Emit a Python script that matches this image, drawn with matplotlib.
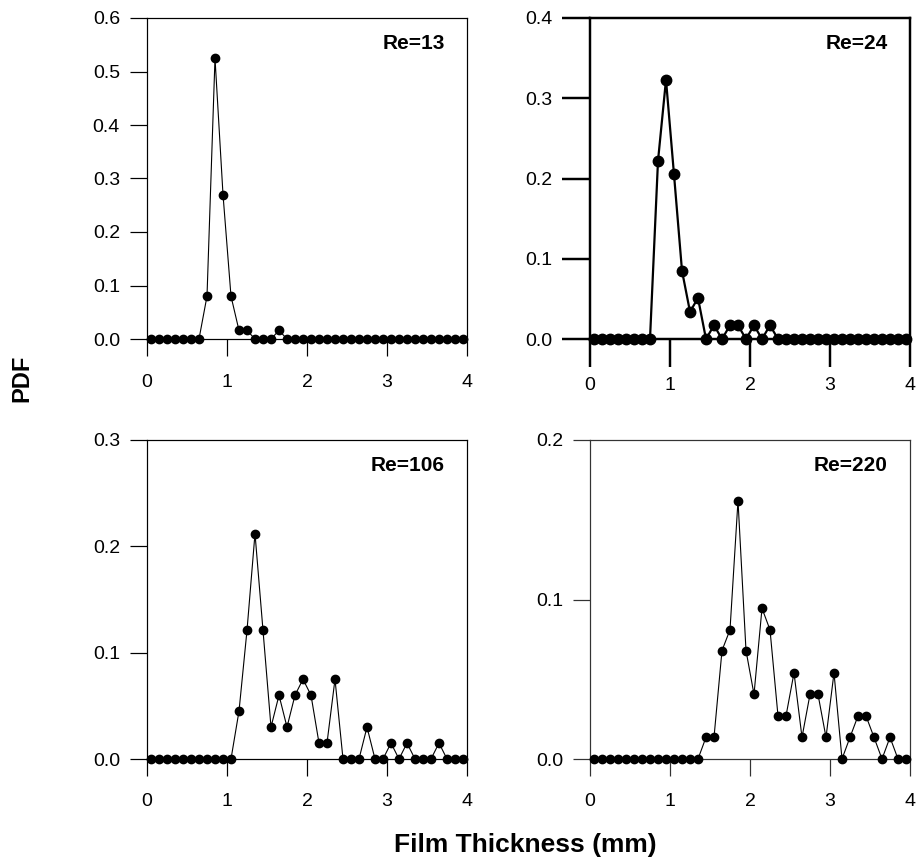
import matplotlib
matplotlib.use("Agg")
import matplotlib.pyplot as plt
import numpy as np

plt.rcParams['font.family'] = ['Liberation Sans', 'DejaVu Sans']

# bin centres, 0.1 mm bins from 0 to 4 mm
x = np.arange(40) * 0.1 + 0.05

pdf_re13 = [0, 0, 0, 0, 0, 0, 0, 0.08, 0.525, 0.27,
            0.08, 0.016, 0.016, 0, 0, 0, 0.016, 0, 0, 0,
            0, 0, 0, 0, 0, 0, 0, 0, 0, 0,
            0, 0, 0, 0, 0, 0, 0, 0, 0, 0]
pdf_re24 = [0, 0, 0, 0, 0, 0, 0, 0, 0.222, 0.323,
            0.205, 0.085, 0.034, 0.051, 0, 0.017, 0, 0.017, 0.017, 0,
            0.017, 0, 0.017, 0, 0, 0, 0, 0, 0, 0,
            0, 0, 0, 0, 0, 0, 0, 0, 0, 0]
pdf_re106 = [0, 0, 0, 0, 0, 0, 0, 0, 0, 0,
             0, 0.045, 0.121, 0.212, 0.121, 0.030, 0.060, 0.030, 0.060, 0.075,
             0.060, 0.015, 0.015, 0.075, 0, 0, 0, 0.030, 0, 0,
             0.015, 0, 0.015, 0, 0, 0, 0.015, 0, 0, 0]
pdf_re220 = [0, 0, 0, 0, 0, 0, 0, 0, 0, 0,
             0, 0, 0, 0, 0.0136, 0.0136, 0.068, 0.081, 0.162, 0.068,
             0.0405, 0.0945, 0.081, 0.027, 0.027, 0.054, 0.0136, 0.0405, 0.0405, 0.0136,
             0.054, 0, 0.0136, 0.027, 0.027, 0.0136, 0, 0.0136, 0, 0]

labels = ['Re=13', 'Re=24', 'Re=106', 'Re=220']
ymax = [0.6, 0.4, 0.3, 0.2]
ysteps = [0.1, 0.1, 0.1, 0.1]

fig = plt.figure(figsize=(9.19, 8.65), dpi=100)
W, H = 919, 865

# axes boxes in pixels: left, top, right, bottom
boxes = [(147, 18, 467, 339), (590, 18, 910, 339),
         (147, 440, 467, 759), (590, 440, 910, 759)]
series = [pdf_re13, pdf_re24, pdf_re106, pdf_re220]
lws = [0.8, 1.6, 0.8, 0.8]
mss = [6, 7.5, 6, 6]
ticklen = [12.5, 20, 12.5, 12.5]
colors = ['black', 'black', 'black', '#333333']
xpad = [13, 7, 12, 12]

for i in range(4):
    l, t, r, b = boxes[i]
    ax = fig.add_axes([l / W, 1 - b / H, (r - l) / W, (b - t) / H])
    ax.plot(x, series[i], '-o', color='black', lw=lws[i], ms=mss[i],
            clip_on=False, zorder=3)
    ax.set_xlim(0, 4)
    ax.set_ylim(0, ymax[i])
    ax.set_xticks([0, 1, 2, 3, 4])
    ax.set_yticks(np.arange(0, ymax[i] + 1e-9, ysteps[i]))
    ax.yaxis.set_major_formatter(matplotlib.ticker.FormatStrFormatter('%.1f'))
    ax.tick_params(direction='out', length=ticklen[i], width=lws[i] * 1.1,
                   labelsize=14, color=colors[i])
    ax.tick_params(axis='y', pad=7)
    ax.tick_params(axis='x', pad=xpad[i])
    for s in ax.spines.values():
        s.set_linewidth(lws[i] * 1.1)
        s.set_color(colors[i])
    ax.text(0.93, 0.92, labels[i], transform=ax.transAxes, ha='right',
            va='center', fontsize=15, fontweight='bold')

fig.text(22 / W, 1 - 378 / H, 'PDF', rotation=90, ha='center', va='center',
         fontsize=17, fontweight='bold')
fig.text(525 / W, 1 - 845 / H, 'Film Thickness (mm)', ha='center',
         va='center', fontsize=19, fontweight='bold')

fig.savefig('out.png', dpi=100)
